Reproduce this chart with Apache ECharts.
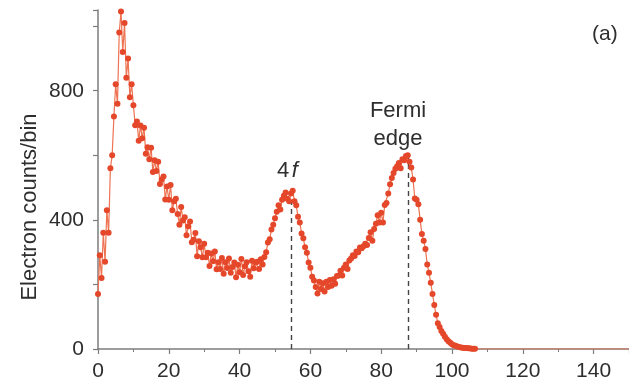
<!DOCTYPE html>
<html><head><meta charset="utf-8">
<script src="https://cdn.jsdelivr.net/npm/echarts@6/dist/echarts.min.js"></script>
<style>html,body{margin:0;padding:0;background:#fff}#c{width:629px;height:387px}</style>
</head><body><div id="c"></div>
<script>
// Energy bin width (x units per bin), bins start at x = 0
const binWidth = 0.5;
// Electron counts per bin, x = 0, 0.5, 1, ... 150
const counts = [
  170, 290, 220, 360, 270, 430, 360, 560, 600, 720,
  820, 760, 980, 1045, 920, 1010, 840, 900, 780, 820,
  755, 693, 705, 645, 692, 653, 685, 605, 625, 588,
  623, 548, 585, 551, 580, 511, 525, 534, 463, 503,
  462, 508, 430, 458, 465, 418, 385, 440, 398, 408,
  352, 380, 395, 331, 338, 359, 287, 334, 315, 284,
  326, 284, 298, 257, 296, 272, 302, 247, 269, 248,
  282, 233, 269, 251, 280, 236, 254, 268, 222, 261,
  238, 279, 229, 256, 269, 241, 224, 273, 250, 268,
  270, 248, 278, 262, 285, 300, 330, 340, 370, 385,
  405, 425, 445, 432, 462, 475, 485, 465, 458, 482,
  490, 458, 445, 410, 392, 358, 343, 315, 298, 268,
  252, 224, 212, 192, 172, 208, 186, 204, 178, 208,
  192, 214, 196, 216, 202, 226, 228, 242, 228, 252,
  262, 248, 274, 280, 290, 288, 302, 300, 314, 312,
  318, 326, 322, 344, 362, 335, 372, 388, 414, 392,
  422, 392, 446, 452, 482, 510, 530, 545, 558, 566,
  576, 560, 588, 585, 598, 600, 580, 562, 525, 466,
  462, 448, 400, 356, 335, 310, 262, 236, 205, 170,
  136, 106, 80, 68, 56, 47, 38, 30, 24, 19,
  15, 12, 10, 8, 6, 5, 4, 3, 3, 2,
  2, 1, 1, 1, 0, 0, 0, 0, 0, 0,
  0, 0, 0, 0, 0, 0, 0, 0, 0, 0,
  0, 0, 0, 0, 0, 0, 0, 0, 0, 0,
  0, 0, 0, 0, 0, 0, 0, 0, 0, 0,
  0, 0, 0, 0, 0, 0, 0, 0, 0, 0,
  0, 0, 0, 0, 0, 0, 0, 0, 0, 0,
  0, 0, 0, 0, 0, 0, 0, 0, 0, 0,
  0, 0, 0, 0, 0, 0, 0, 0, 0, 0,
  0, 0, 0, 0, 0, 0, 0, 0, 0, 0,
  0
];
// Axis ticks
const xMin = 0, xMax = 150, xStep = 20;
const yMin = 0, yMax = 1050, yStep = 200, yLabelStep = 400;
// Feature markers (dashed lines): x position and top count
const featureX = [54.5, 87.5];
const featureTop = [490, 598];
const yAxisTitle = 'Electron counts/bin';
const panelLabel = '(a)';

const points = counts.map((c, i) => [i * binWidth, c]);

const chart = echarts.init(document.getElementById('c'), null, {renderer: 'canvas'});
const FONT = 'Liberation Sans, Arial, sans-serif';
const axisColor = '#7d7d7d';
const textColor = '#2e2e2e';
const red = '#e4472a';

chart.setOption({
  animation: false,
  backgroundColor: '#ffffff',
  grid: {left: 98, right: 0, top: 10, bottom: 38, containLabel: false},
  xAxis: {
    type: 'value', min: xMin, max: xMax, interval: xStep,
    axisLine: {show: true, onZero: false, lineStyle: {color: axisColor, width: 1.5}},
    axisTick: {show: true, length: 5, lineStyle: {color: axisColor, width: 1.2}},
    minorTick: {show: true, splitNumber: 2, length: 3, lineStyle: {color: axisColor, width: 1}},
    splitLine: {show: false},
    axisLabel: {color: textColor, fontFamily: FONT, fontSize: 21, margin: 12, showMaxLabel: false}
  },
  yAxis: {
    type: 'value', min: yMin, max: yMax, interval: yStep,
    axisLine: {show: true, lineStyle: {color: axisColor, width: 1.5}},
    axisTick: {show: true, length: 5, lineStyle: {color: axisColor, width: 1.2}},
    splitLine: {show: false},
    axisLabel: {color: textColor, fontFamily: FONT, fontSize: 21, margin: 14,
      formatter: v => (v % yLabelStep === 0 && v <= yMax - 100) ? String(v) : ''}
  },
  series: [{
    type: 'line',
    data: points,
    symbol: 'circle',
    symbolSize: v => v[1] > 0 ? 6 : 0,
    showSymbol: true,
    lineStyle: {color: '#ee7352', width: 1.2},
    itemStyle: {color: red, borderWidth: 0},
    z: 5,
    markLine: {
      silent: true, symbol: 'none', animation: false,
      lineStyle: {color: '#444', type: [5, 4], width: 1.4},
      label: {show: false},
      data: featureX.map((x, i) => [{coord: [x, 0]}, {coord: [x, featureTop[i]]}])
    }
  }],
  graphic: [
    {type: 'text', x: 30, y: 207, rotation: Math.PI / 2, style: {
      text: yAxisTitle, fill: textColor, fontFamily: FONT, fontSize: 22,
      align: 'center', verticalAlign: 'middle'}},
    {type: 'text', x: 277, y: 160, style: {
      text: '{n|4}{s| }{i|f}', fill: textColor,
      rich: {n: {fontFamily: FONT, fontSize: 22, fill: textColor},
             s: {fontFamily: FONT, fontSize: 9},
             i: {fontFamily: FONT, fontSize: 22, fontStyle: 'italic', fill: textColor}}}},
    {type: 'text', x: 398, y: 97, style: {
      text: 'Fermi\nedge', fill: textColor, align: 'center', fontFamily: FONT, fontSize: 22, lineHeight: 28}},
    {type: 'text', x: 592, y: 24, style: {text: panelLabel, fill: textColor, fontFamily: FONT, fontSize: 21}}
  ]
});
</script></body></html>
